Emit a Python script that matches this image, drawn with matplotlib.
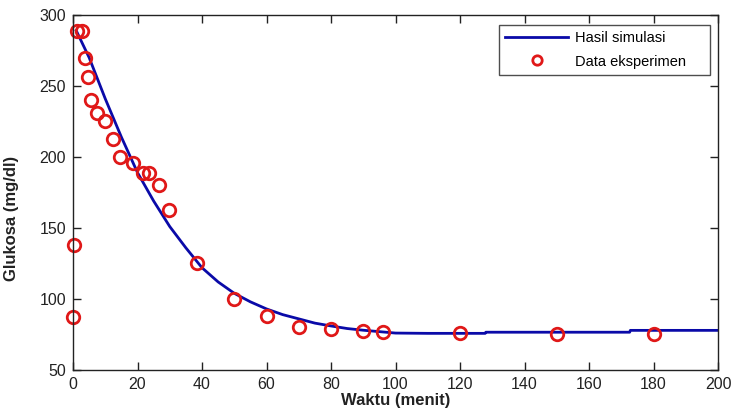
import numpy as np
import matplotlib
matplotlib.use("Agg")
import matplotlib.pyplot as plt

plt.rcParams['font.family'] = ['Liberation Sans', 'DejaVu Sans']

# hasil simulasi model
t_sim = [1, 5, 10, 15, 20, 25, 30, 35, 40, 45, 50, 55, 60, 65, 70, 75, 80, 85,
         90, 95, 100, 110, 120, 127.8, 128, 172.6, 172.8, 200]
g_sim = [289, 270, 241, 214, 189, 169, 151, 136, 122, 112, 104, 98, 93, 89, 86,
         83, 81, 79.2, 78, 77, 76, 75.8, 75.8, 75.8, 76.6, 76.6, 77.9, 77.9]

# data eksperimen
t_exp = [0, 0.3, 1.2, 2.8, 3.7, 4.7, 5.6, 7.4, 9.9, 12.4, 14.6, 18.6, 21.7,
         23.6, 26.7, 29.8, 38.4, 50, 60, 70, 80, 90, 96, 120, 150, 180]
g_exp = [87, 138, 289, 289, 270, 256, 240, 231, 225, 213, 200, 196, 189, 189,
         180, 163, 125, 100, 88, 80, 79, 77.5, 76.8, 76, 75, 75]

fig = plt.figure(figsize=(7.36, 4.16), dpi=100)
ax = fig.add_axes([0.0992, 0.1106, 0.8764, 0.8534])

ax.plot(t_sim, g_sim, color='#0a0aa8', lw=2, label='Hasil simulasi')
ax.plot(t_exp, g_exp, 'o', mfc='none', mec='#e01818', mew=2, ms=9,
        label='Data eksperimen', clip_on=False)

ax.set_xlim(0, 200)
ax.set_ylim(50, 300)
ax.set_xticks(np.arange(0, 201, 20))
ax.set_yticks(np.arange(50, 301, 50))
ax.tick_params(direction='in', length=6, width=1, top=True, right=True,
               labelsize=11.5, pad=5, colors='#222222')
for s in ax.spines.values():
    s.set_linewidth(1)
    s.set_color('#222222')

ax.set_xlabel('Waktu (menit)', fontsize=12, fontweight='bold', va='center',
              color='#222222')
ax.set_ylabel('Glukosa (mg/dl)', fontsize=12, fontweight='bold', va='center',
              color='#222222')
ax.xaxis.set_label_coords(0.5, -0.087)
ax.yaxis.set_label_coords(-0.096, 0.428)

leg = ax.legend(loc='upper left', bbox_to_anchor=(0.660, 0.831, 0.327, 0.141),
                mode='expand', fontsize=10.5, frameon=True, fancybox=False,
                borderpad=0.45, handlelength=4.3, handletextpad=0.45,
                labelspacing=0.62, borderaxespad=0, markerscale=0.75)
leg.get_frame().set_edgecolor('#222222')
leg.get_frame().set_linewidth(1)

fig.savefig('out.png', dpi=100)
